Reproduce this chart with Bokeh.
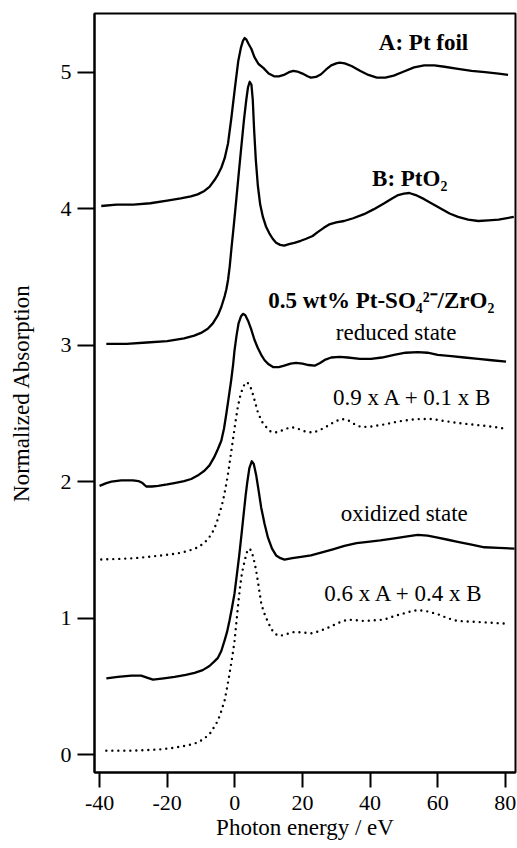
from bokeh.plotting import figure
from bokeh.models import FixedTicker
from bokeh.core.properties import value
from bokeh.embed import file_html
from bokeh.resources import INLINE

# ---------------- data ----------------
# A: Pt foil (offset spectrum)
E_A = [-39.5, -35, -30, -25, -20, -16, -13, -11, -9, -7.5, -6, -5, -4, -3, -2, -1, 0, 1,
       1.8, 2.4, 2.9, 3.4, 4.0, 4.9, 5.8, 7.0, 8.5, 10, 11.6, 13, 14.5, 16, 17.3, 18.5, 20,
       21.5, 22.5, 24, 25.5, 27, 28.5, 30, 31, 32.5, 34.5, 37, 39.5, 42, 44.5, 47, 50, 53,
       56, 59, 62, 66, 70, 74, 78, 80.8]
mu_A = [4.02, 4.03, 4.03, 4.04, 4.06, 4.075, 4.09, 4.105, 4.13, 4.16, 4.21, 4.25, 4.30, 4.37,
        4.48, 4.67, 4.88, 5.08, 5.18, 5.23, 5.25, 5.24, 5.21, 5.17, 5.11, 5.06, 5.03, 4.99,
        4.97, 4.97, 4.98, 5.00, 5.01, 5.005, 4.99, 4.97, 4.96, 4.965, 4.985, 5.02, 5.05, 5.065,
        5.07, 5.065, 5.045, 5.01, 4.98, 4.96, 4.96, 4.975, 5.005, 5.035, 5.05, 5.05, 5.04,
        5.025, 5.01, 5.00, 4.99, 4.98]

# B: PtO2
E_B = [-38, -32, -26, -20, -15, -12, -10, -8, -6.5, -5, -4, -3, -2.5, -2, -1.5, -1, -0.3,
       0.4, 1.2, 1.9, 2.7, 3.4, 3.9, 4.4, 4.9, 5.3, 5.7, 6.2, 6.8, 7.5, 8.3, 9.2, 10.2, 11.2,
       12.2, 13.4, 14.6, 16, 17.6, 19.5, 21.1, 23, 24.6, 26.3, 27.9, 30, 32.3, 35, 38.2, 41,
       44.2, 46.5, 48.3, 50, 51.6, 53.5, 56, 58.5, 61, 63.5, 66, 69, 72, 75, 78, 82.5]
mu_B = [3.01, 3.01, 3.02, 3.03, 3.05, 3.07, 3.09, 3.12, 3.16, 3.22, 3.28, 3.36, 3.41, 3.48,
        3.58, 3.71, 3.88, 4.06, 4.27, 4.45, 4.65, 4.80, 4.89, 4.93, 4.91, 4.80, 4.58, 4.36,
        4.17, 4.03, 3.94, 3.87, 3.82, 3.78, 3.75, 3.735, 3.73, 3.74, 3.75, 3.765, 3.78, 3.80,
        3.83, 3.86, 3.885, 3.90, 3.91, 3.93, 3.96, 3.995, 4.04, 4.075, 4.10, 4.11, 4.115,
        4.10, 4.07, 4.035, 4.00, 3.965, 3.94, 3.92, 3.91, 3.915, 3.92, 3.94]

# 0.5 wt% Pt-SO4/ZrO2, reduced state
E_red = [-40, -38, -36.5, -33.6, -30.1, -28.5, -27.3, -26.2, -24.5, -22.7, -20, -17.9, -15,
         -12.9, -11, -9, -7.5, -6.1, -5, -4, -3.2, -2.5, -1.8, -1.1, -0.5, -0.1, 0.5, 1.1,
         1.8, 2.4, 3.1, 3.9, 4.8, 5.8, 6.8, 7.8, 8.8, 10, 11.3, 13, 14.6, 16.5, 18.1, 20, 21.8,
         23.6, 25.2, 26.8, 28.5, 31, 33.4, 37, 40.3, 43.5, 47.1, 50.5, 54.1, 57, 60, 64, 67.9,
         72, 76, 80.2]
mu_red = [1.97, 1.99, 2.00, 2.01, 2.01, 2.005, 1.99, 1.965, 1.965, 1.97, 1.98, 1.99, 2.005,
          2.02, 2.045, 2.08, 2.12, 2.18, 2.24, 2.30, 2.39, 2.50, 2.62, 2.74, 2.86, 2.96, 3.07,
          3.16, 3.21, 3.23, 3.22, 3.18, 3.12, 3.04, 2.98, 2.93, 2.89, 2.86, 2.84, 2.84, 2.85,
          2.865, 2.87, 2.865, 2.855, 2.85, 2.87, 2.895, 2.91, 2.915, 2.91, 2.90, 2.90, 2.91,
          2.93, 2.945, 2.95, 2.945, 2.93, 2.92, 2.91, 2.90, 2.89, 2.88]

# 0.9 x A + 0.1 x B (dotted)
E_fit1 = [-39.5, -34, -29.7, -25.5, -21.8, -18.5, -15.8, -13, -10.8, -9.2, -7.9, -6.6, -5.5,
          -4.5, -3.5, -2.7, -2.0, -1.3, -0.6, 0.2, 0.9, 1.7, 2.4, 3.0, 3.6, 4.3, 5.0, 5.8,
          6.8, 8, 9.3, 10.5, 11.7, 13, 14.8, 16.7, 18.5, 20.5, 23.1, 25.3, 27.5, 29.5, 31.5,
          33.5, 35.5, 37.4, 40.5, 44.2, 48, 52.1, 55, 58.1, 62, 65.9, 70, 73.7, 77, 79.7]
mu_fit1 = [1.43, 1.435, 1.44, 1.45, 1.46, 1.47, 1.48, 1.50, 1.52, 1.55, 1.58, 1.63, 1.69,
           1.77, 1.86, 1.96, 2.06, 2.18, 2.30, 2.44, 2.55, 2.64, 2.69, 2.72, 2.73, 2.71, 2.67,
           2.60, 2.51, 2.44, 2.40, 2.37, 2.36, 2.365, 2.385, 2.40, 2.39, 2.37, 2.36, 2.38,
           2.41, 2.44, 2.46, 2.45, 2.42, 2.40, 2.405, 2.42, 2.44, 2.455, 2.46, 2.46, 2.445,
           2.43, 2.42, 2.41, 2.40, 2.39]

# oxidized state
E_ox = [-38, -34.6, -30.6, -27.7, -26, -24.2, -21, -17.8, -14.5, -11.9, -9.5, -7.5, -6.2,
        -5.0, -4.0, -3.0, -2.3, -1.6, -0.9, -0.1, 0.6, 1.3, 2.0, 2.6, 3.2, 3.7, 4.3, 5.0,
        5.6, 6.3, 7.0, 7.8, 8.8, 9.8, 11, 12.2, 13.5, 14.7, 17, 19.6, 22.5, 25.5, 29, 32.4,
        36, 39.3, 43, 47.2, 51, 54.1, 57, 60, 63, 65.9, 70, 73.8, 78, 82.7]
mu_ox = [0.56, 0.57, 0.58, 0.58, 0.565, 0.55, 0.56, 0.57, 0.585, 0.60, 0.62, 0.65, 0.68,
         0.71, 0.76, 0.84, 0.90, 0.98, 1.07, 1.18, 1.32, 1.46, 1.62, 1.76, 1.90, 2.00, 2.10,
         2.15, 2.13, 2.05, 1.94, 1.81, 1.69, 1.59, 1.51, 1.46, 1.44, 1.43, 1.44, 1.45, 1.46,
         1.48, 1.505, 1.53, 1.55, 1.56, 1.57, 1.585, 1.60, 1.61, 1.605, 1.59, 1.575, 1.56,
         1.54, 1.52, 1.515, 1.51]

# 0.6 x A + 0.4 x B (dotted)
E_fit2 = [-38, -34, -29.7, -25.5, -21.8, -18.5, -15.8, -13, -10.9, -9, -7.5, -6.2, -5.0,
          -4.0, -3.0, -2.3, -1.6, -0.8, -0.1, 0.5, 1.1, 1.6, 2.1, 2.9, 3.5, 4.1, 4.7, 5.3,
          5.8, 6.3, 7.0, 7.8, 8.5, 9.3, 10.8, 12, 13.2, 15.5, 17.6, 20, 22.6, 25, 27.5, 30.5,
          33.4, 36, 38.3, 41, 44.2, 47, 49.2, 52, 54.1, 57, 60, 63, 65.9, 70, 73.8, 77, 80.7]
mu_fit2 = [0.03, 0.03, 0.03, 0.035, 0.04, 0.05, 0.06, 0.075, 0.09, 0.12, 0.15, 0.20, 0.25,
           0.32, 0.40, 0.49, 0.59, 0.71, 0.83, 0.98, 1.13, 1.24, 1.33, 1.42, 1.48, 1.51, 1.50,
           1.46, 1.41, 1.35, 1.24, 1.11, 1.05, 1.00, 0.92, 0.885, 0.87, 0.885, 0.90, 0.895,
           0.89, 0.905, 0.93, 0.965, 0.99, 0.985, 0.98, 0.985, 0.99, 1.015, 1.03, 1.05, 1.06,
           1.05, 1.03, 1.00, 0.98, 0.975, 0.97, 0.965, 0.96]

x_ticks = [-40, -20, 0, 20, 40, 60, 80]
x_tick_labels = ["-40", "-20", "0", "20", "40", "60", "80"]
y_ticks = [0, 1, 2, 3, 4, 5]

bold_labels = ["A: Pt foil", "B: PtO\u2082", "0.5 wt% Pt-SO\u2084\u00b2\u207b/ZrO\u2082"]
plain_labels = ["reduced state", "0.9 x A + 0.1 x B", "oxidized state", "0.6 x A + 0.4 x B"]

# annotation anchors (data units)
bold_x = [55.8, 51.7, 43.3]
bold_y = [5.22, 4.22, 3.33]
plain_x = [47.7, 52.7, 50.1, 50.1]
plain_y = [3.09, 2.62, 1.77, 1.18]

FONT = "Liberation Serif"

p = figure(width=517, height=848, output_backend="svg", toolbar_location=None,
           x_range=(-41.5, 83), y_range=(-0.13, 5.43),
           min_border_left=94, min_border_right=2, min_border_top=13, min_border_bottom=76)
p.background_fill_color = "white"
p.border_fill_color = "white"
p.grid.visible = False
p.outline_line_color = "black"
p.outline_line_width = 2
p.outline_line_alpha = 1

solid = dict(line_color="black", line_width=2.3, line_join="round")
dotted = dict(line_color="black", line_width=2.4, line_dash="0 6", line_cap="round")

p.line(E_A, mu_A, **solid)
p.line(E_B, mu_B, **solid)
p.line(E_red, mu_red, **solid)
p.line(E_fit1, mu_fit1, **dotted)
p.line(E_ox, mu_ox, **solid)
p.line(E_fit2, mu_fit2, **dotted)

p.text(x=bold_x, y=bold_y, text=bold_labels, text_font=value(FONT), text_font_size="23px",
       text_font_style="bold", text_align="center", text_baseline="alphabetic", text_color="black")
p.text(x=plain_x, y=plain_y, text=plain_labels, text_font=value(FONT), text_font_size="23px",
       text_align="center", text_baseline="alphabetic", text_color="black")

for ax in (p.xaxis[0], p.yaxis[0]):
    ax.axis_line_width = 2
    ax.axis_line_color = "black"
    ax.major_tick_line_width = 2
    ax.major_tick_line_color = "black"
    ax.major_tick_in = 0
    ax.minor_tick_line_color = None
    ax.major_label_text_font = FONT
    ax.major_label_text_font_size = "22px"
    ax.major_label_text_color = "black"
    ax.axis_label_text_font = FONT
    ax.axis_label_text_font_size = "23px"
    ax.axis_label_text_font_style = "normal"
    ax.axis_label_text_color = "black"

p.xaxis.ticker = FixedTicker(ticks=x_ticks)
p.xaxis.major_label_overrides = dict(zip(x_ticks, x_tick_labels))
p.yaxis.ticker = FixedTicker(ticks=y_ticks)
p.xaxis.major_tick_out = 15
p.yaxis.major_tick_out = 17
p.xaxis.major_label_standoff = 8
p.yaxis.major_label_standoff = 6
p.xaxis.axis_label = "Photon energy / eV"
p.yaxis.axis_label = "Normalized Absorption"
p.xaxis.axis_label_standoff = 2
p.yaxis.axis_label_standoff = 24

open("out.html", "w").write(file_html(p, INLINE))
